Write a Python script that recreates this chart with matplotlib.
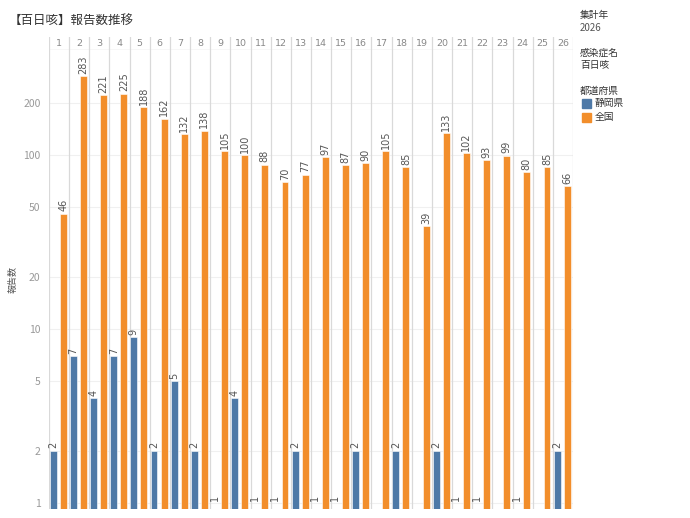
import matplotlib
matplotlib.use("Agg")
import matplotlib.pyplot as plt
import numpy as np
from matplotlib.ticker import FixedLocator, NullLocator

plt.rcParams['font.family'] = ['Noto Sans CJK JP', 'DejaVu Sans']

weeks = list(range(1, 27))
shizuoka = [2, 7, 4, 7, 9, 2, 5, 2, 1, 4, 1, 1, 2, 1, 1, 2, None, 2, None, 2, 1, 1, None, 1, None, 2]
zenkoku = [46, 283, 221, 225, 188, 162, 132, 138, 105, 100, 88, 70, 77, 97, 87, 90, 105, 85, 39, 133, 102, 93, 99, 80, 85, 66]
yticks = [1, 2, 5, 10, 20, 50, 100, 200]

title = "【百日咳】報告数推移"
ylabel = "報告数"
series_names = ["静岡県", "全国"]
colors = ["#4e79a7", "#f28e2b"]

W, H = 690, 518
fig = plt.figure(figsize=(W / 100, H / 100), dpi=100)

def fr(x0, y0, x1, y1):
    return [x0 / W, 1 - y1 / H, (x1 - x0) / W, (y1 - y0) / H]

ymin, ymax = 0.924, 401
ax = fig.add_axes(fr(49, 50, 573, 509))
hx = fig.add_axes(fr(49, 37, 573, 50))

n = len(weeks)
x = np.arange(n)
bw = 0.34
off = [-0.29, 0.21]
grid_c = "#d9d9d9"

for si, (vals, c) in enumerate(zip([shizuoka, zenkoku], colors)):
    for i, v in enumerate(vals):
        if v is None:
            continue
        xc = x[i] + off[si]
        if v > 1:
            ax.bar(xc, v - ymin, bottom=ymin, width=bw, color=c,
                   edgecolor="white", linewidth=0.4, zorder=3)
        ax.text(xc, v * 1.03, str(v), rotation=90, ha="center", va="bottom",
                fontsize=7, color="#555555", zorder=4,
                family=['DejaVu Sans'])

ax.set_yscale("log")
ax.set_ylim(ymin, ymax)
ax.set_xlim(-0.5, n - 0.5)
ax.yaxis.set_major_locator(FixedLocator(yticks))
ax.yaxis.set_minor_locator(NullLocator())
ax.set_yticks(yticks)
ax.set_yticklabels([str(t) for t in yticks], fontsize=7.5, color="#999999")
ax.tick_params(axis="y", length=0, pad=6)
ax.set_xticks([])
for t in yticks:
    ax.axhline(t, color="#f0f0f0", linewidth=0.8, zorder=0)
for b in np.arange(-0.5, n, 1.0):
    ax.axvline(b, color=grid_c, linewidth=0.9, zorder=1)
for s in ax.spines.values():
    s.set_visible(False)
ax.set_ylabel(ylabel, fontsize=6.5, color="#555555")
ax.yaxis.set_label_coords((18 - 49) / 524, 0.5)

hx.set_xlim(-0.5, n - 0.5)
hx.set_ylim(0, 1)
hx.set_xticks([])
hx.set_yticks([])
for s in hx.spines.values():
    s.set_visible(False)
hx.axhline(0, color=grid_c, linewidth=1.0)
for b in np.arange(-0.5, n, 1.0):
    hx.axvline(b, color=grid_c, linewidth=0.9)
for i, w in enumerate(weeks):
    hx.text(x[i], 0.5, str(w), ha="center", va="center", fontsize=6.8,
            color="#888888", family=['DejaVu Sans'])

fig.text(9 / W, 1 - 20 / H, title, fontsize=9, color="#333333", va="center", ha="left")

def ftext(px, py, s, **kw):
    fig.text(px / W, 1 - py / H, s, va="center", ha="left", **kw)

ftext(580, 15, "集計年", fontsize=7, color="#333333")
ftext(580, 28, "2026", fontsize=7, color="#555555")
ftext(580, 53, "感染症名", fontsize=7, color="#333333")
ftext(580, 65, "百日咳", fontsize=7, color="#333333")
ftext(580, 91, "都道府県", fontsize=7, color="#333333")
for k, (nm, c) in enumerate(zip(series_names, colors)):
    yy = 103 + 14 * k
    fig.patches.append(plt.Rectangle((582 / W, 1 - (yy + 4.5) / H), 9 / W, 9 / H,
                                     transform=fig.transFigure, color=c))
    ftext(595, yy, nm, fontsize=7, color="#333333")

fig.savefig("out.png", dpi=100)
